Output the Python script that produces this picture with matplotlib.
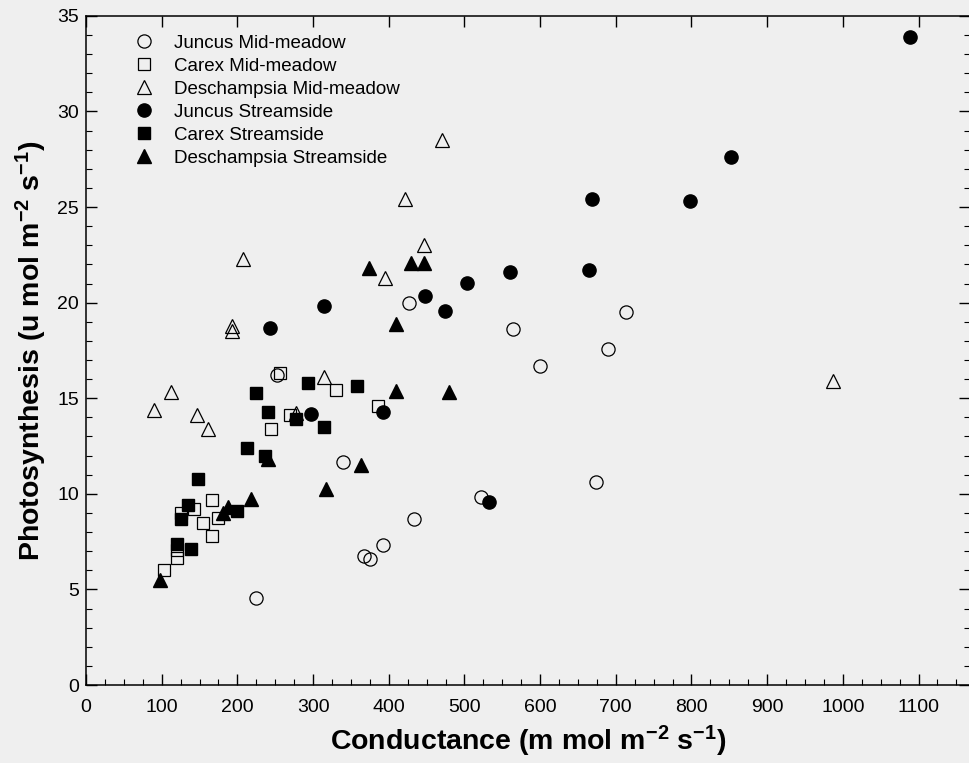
import matplotlib
matplotlib.use("Agg")
import matplotlib.pyplot as plt
from matplotlib.ticker import MultipleLocator

plt.rcParams['font.family'] = ['Liberation Sans', 'DejaVu Sans']
plt.rcParams['mathtext.default'] = 'regular'

# conductance (x) and photosynthesis (y) for each group
juncus_mid_x = [427, 564, 714, 690, 600, 674, 522, 252, 339, 433, 392, 367, 375, 225]
juncus_mid_y = [20.0, 18.6, 19.5, 17.55, 16.7, 10.6, 9.85, 16.2, 11.65, 8.7, 7.33, 6.75, 6.6, 4.55]

carex_mid_x = [256, 330, 269, 244, 386, 166, 143, 126, 174, 155, 166, 120, 120, 103]
carex_mid_y = [16.3, 15.45, 14.1, 13.4, 14.6, 9.7, 9.2, 9.0, 8.75, 8.5, 7.8, 7.06, 6.66, 6.0]

desch_mid_x = [471, 421, 447, 208, 395, 193, 193, 314, 112, 90, 147, 161, 278, 987]
desch_mid_y = [28.5, 25.4, 23.0, 22.3, 21.3, 18.8, 18.5, 16.1, 15.35, 14.4, 14.1, 13.4, 14.25, 15.9]

juncus_str_x = [1089, 852, 669, 798, 560, 665, 503, 448, 474, 315, 243, 297, 392, 532]
juncus_str_y = [33.9, 27.6, 25.4, 25.3, 21.6, 21.7, 21.05, 20.35, 19.55, 19.85, 18.65, 14.15, 14.3, 9.55]

carex_str_x = [293, 358, 225, 240, 277, 314, 213, 237, 148, 135, 125, 200, 120, 139]
carex_str_y = [15.8, 15.65, 15.3, 14.3, 13.9, 13.5, 12.4, 12.0, 10.8, 9.4, 8.67, 9.12, 7.36, 7.1]

desch_str_x = [374, 430, 447, 409, 410, 480, 363, 317, 218, 187, 181, 240, 98]
desch_str_y = [21.8, 22.1, 22.1, 18.9, 15.4, 15.35, 11.5, 10.25, 9.75, 9.33, 9.0, 11.8, 5.5]

bg = '#efefef'
fig = plt.figure(figsize=(9.7, 7.63), dpi=100, facecolor=bg)
ax = fig.add_axes([0.0887, 0.1022, 0.9113, 0.877])
ax.set_facecolor(bg)

ms = 9.5
ax.plot(juncus_mid_x, juncus_mid_y, 'o', mfc='none', mec='black', mew=0.9, ms=ms, label='Juncus Mid-meadow')
ax.plot(carex_mid_x, carex_mid_y, 's', mfc='none', mec='black', mew=0.9, ms=ms - 0.5, label='Carex Mid-meadow')
ax.plot(desch_mid_x, desch_mid_y, '^', mfc='none', mec='black', mew=0.9, ms=ms, label='Deschampsia Mid-meadow')
ax.plot(juncus_str_x, juncus_str_y, 'o', color='black', ms=ms, label='Juncus Streamside')
ax.plot(carex_str_x, carex_str_y, 's', color='black', ms=ms - 0.5, label='Carex Streamside')
ax.plot(desch_str_x, desch_str_y, '^', color='black', ms=ms, label='Deschampsia Streamside')

ax.set_xlim(0, 1168)
ax.set_ylim(0, 35)
ax.xaxis.set_major_locator(MultipleLocator(100))
ax.xaxis.set_minor_locator(MultipleLocator(25))
ax.yaxis.set_major_locator(MultipleLocator(5))
ax.yaxis.set_minor_locator(MultipleLocator(1))
ax.tick_params(which='both', direction='in', top=True, right=True, labelsize=14)
ax.tick_params(axis='x', which='both', pad=10)
ax.tick_params(axis='y', which='both', pad=5)
ax.tick_params(which='major', length=8, width=1)
ax.tick_params(which='minor', length=4, width=0.8, top=False)

for s in ax.spines.values():
    s.set_linewidth(1.1)

ax.set_xlabel('Conductance (m mol m$^{-2}$ s$^{-1}$)', fontsize=20.5, fontweight='bold', labelpad=6)
ax.set_ylabel('Photosynthesis (u mol m$^{-2}$ s$^{-1}$)', fontsize=20.5, fontweight='bold', labelpad=6)

ax.legend(loc='upper left', bbox_to_anchor=(0.036, 0.997), frameon=False, fontsize=13.5,
          handletextpad=1.1, labelspacing=0.31, handlelength=1.0, markerscale=1.0)

fig.savefig('out.png', dpi=100, facecolor=bg)
